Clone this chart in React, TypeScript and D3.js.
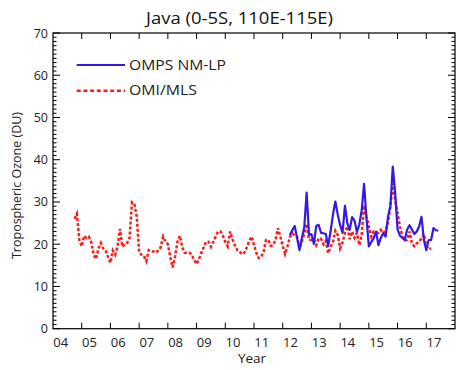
import React from "react";
import * as d3 from "d3";

const title = "Java (0-5S, 110E-115E)";
const yLabel = "Tropospheric Ozone (DU)";
const xLabel = "Year";
const yTicks = [0, 10, 20, 30, 40, 50, 60, 70];
const yearTicks = [2004, 2005, 2006, 2007, 2008, 2009, 2010, 2011, 2012, 2013, 2014, 2015, 2016, 2017];
const yearLabels = ["04", "05", "06", "07", "08", "09", "10", "11", "12", "13", "14", "15", "16", "17"];

// OMI/MLS monthly, starting Oct 2004
const omiStart = 2004 + 9 / 12;
const omiValues = [
  26, 27.2, 21,
  19.5, 22, 21.5, 21.8, 20.5, 17.5, 16.5, 19, 20.3, 19, 18.5, 17,
  15.6, 18.5, 17.5, 19.5, 23.6, 19.4, 20, 20.3, 21.5, 29.9, 29.5, 26.5,
  18, 17.5, 17.2, 16, 18.6, 18.3, 18.3, 18, 18.5, 19.3, 21.8, 20.6,
  20, 17, 14.5, 17, 20.5, 22, 19.3, 18, 18, 18, 17.5, 16.3,
  15.3, 16.4, 18, 19.3, 20.6, 20.6, 19.4, 20.6, 21.8, 23, 23, 22,
  20.6, 19.5, 23, 21.2, 19.8, 18.6, 18.2, 17.6, 18, 19.3, 20.8, 21.8,
  19.8, 17.9, 16.7, 17, 18.2, 21, 21, 19.6, 19.8, 21, 23.8, 21.8,
  19.6, 17.7, 19.5, 21.7, 22.6, 22, 21.8, 19, 20.6, 22.5, 24.8, 21,
  21, 21.2, 19.8, 21.4, 21.3, 20, 20.8, 17.9, 19.3, 20.6, 23.2, 22.2,
  19, 20.4, 22.7, 24.2, 21.2, 23, 21.5, 22.7, 19.8, 22.2, 29.2, 26.5,
  24.2, 21.8, 23, 22.8, 22.7, 23.4, 22.6, 23.2, 25.2, 29, 34.4, 30.5,
  27.3, 24.2, 21.8, 20.9, 21, 23, 20.2, 19.5, 20.2, 20.6, 21.4, 22.4,
  19.6, 18.8, 19,
];

// OMPS NM-LP monthly, starting Apr 2012
const ompsStart = 2012 + 3 / 12;
const ompsValues = [
  22.2, 23.3, 24.3, 21.5, 18.6, 21.5, 24, 32.2, 22.2,
  22.4, 20.1, 24.3, 24.6, 22.7, 22.6, 22.4, 19.6, 23, 27, 30.1, 27,
  24.5, 22.7, 29.1, 25, 23.4, 26.4, 25.6, 23, 24.6, 28, 34.3, 26.2,
  19.5, 20.5, 21.4, 23, 19.8, 21.5, 22.6, 21.8, 26.5, 29, 38.4, 32.1,
  23.5, 22, 21.5, 21, 23.5, 24.5, 23.5, 22.4, 23, 24.2, 26.5, 21,
  18.6, 21, 21, 23.8, 23.3, 23.2,
];

const seriesNames = ["OMPS NM-LP", "OMI/MLS"];

const W = 457, H = 370;
const L = 53, R = 455, T = 33, B = 328.7;
const FONT = "'Open Sans', 'Noto Sans', sans-serif";
const BLUE = "#3219e6";
const RED = "#ff1a1a";

export default function App() {
  const x = d3.scaleLinear().domain([2004, 2018]).range([L, R]);
  const y = d3.scaleLinear().domain([0, 70]).range([B, T]);

  const omi = omiValues.map((v, i) => ({ t: omiStart + i / 12, v }));
  const omps = ompsValues.map((v, i) => ({ t: ompsStart + i / 12, v }));
  const line = d3.line<{ t: number; v: number }>().x((d) => x(d.t)).y((d) => y(d.v));

  const minor = d3.range(1, 70).filter((v) => v % 10 !== 0);

  return (
    <svg width={W} height={H} style={{ position: "absolute", left: 0, top: 0, background: "#fff" }} fontFamily={FONT}>
      <rect x={0} y={0} width={W} height={H} fill="#fff" />
      <text x={146} y={23.5} fontSize={16} fill="#111" textLength={187} lengthAdjust="spacingAndGlyphs">{title}</text>

      {/* y ticks */}
      {yTicks.map((v) => (
        <g key={"y" + v}>
          <line x1={L} x2={L + 7} y1={y(v)} y2={y(v)} stroke="#000" strokeWidth={1} />
          <line x1={R} x2={R - 7} y1={y(v)} y2={y(v)} stroke="#000" strokeWidth={1} />
          <text x={48} y={y(v)} dy="0.36em" textAnchor="end" fontSize={12.5} fill="#222">{v}</text>
        </g>
      ))}
      {minor.map((v) => (
        <g key={"m" + v}>
          <line x1={L} x2={L + 3.5} y1={y(v)} y2={y(v)} stroke="#000" strokeWidth={1} />
          <line x1={R} x2={R - 3.5} y1={y(v)} y2={y(v)} stroke="#000" strokeWidth={1} />
        </g>
      ))}

      {/* x ticks */}
      {yearTicks.map((t, i) => (
        <g key={"x" + t}>
          {t > 2004 && <line x1={x(t)} x2={x(t)} y1={B} y2={B - 6} stroke="#000" strokeWidth={1} />}
          {t > 2004 && <line x1={x(t)} x2={x(t)} y1={T} y2={T + 6} stroke="#000" strokeWidth={1} />}
          <text x={x(t) + 0.3} y={346.5} textAnchor="start" fontSize={13} fill="#222">{yearLabels[i]}</text>
        </g>
      ))}

      <rect x={L} y={T} width={R - L} height={B - T} fill="none" stroke="#000" strokeWidth={1.2} />

      <text x={252} y={363} textAnchor="middle" fontSize={13.5} fill="#222">{xLabel}</text>
      <text transform={`translate(21,185.5) rotate(-90)`} textAnchor="middle" fontSize={12.5} fill="#222">{yLabel}</text>

      <path d={line(omi) || ""} fill="none" stroke={RED} strokeWidth={2.5} strokeDasharray="3 2" />
      <path d={line(omps) || ""} fill="none" stroke={BLUE} strokeWidth={2.2} strokeLinejoin="round" />

      {/* legend */}
      <line x1={76.7} x2={125} y1={65} y2={65} stroke={BLUE} strokeWidth={2.2} />
      <text x={129} y={69.8} fontSize={14} fill="#222" textLength={97} lengthAdjust="spacingAndGlyphs">{seriesNames[0]}</text>
      <line x1={76.7} x2={125} y1={90.7} y2={90.7} stroke={RED} strokeWidth={2.5} strokeDasharray="4 2.7" />
      <text x={129} y={95.3} fontSize={14} fill="#222" textLength={68} lengthAdjust="spacingAndGlyphs">{seriesNames[1]}</text>
    </svg>
  );
}
